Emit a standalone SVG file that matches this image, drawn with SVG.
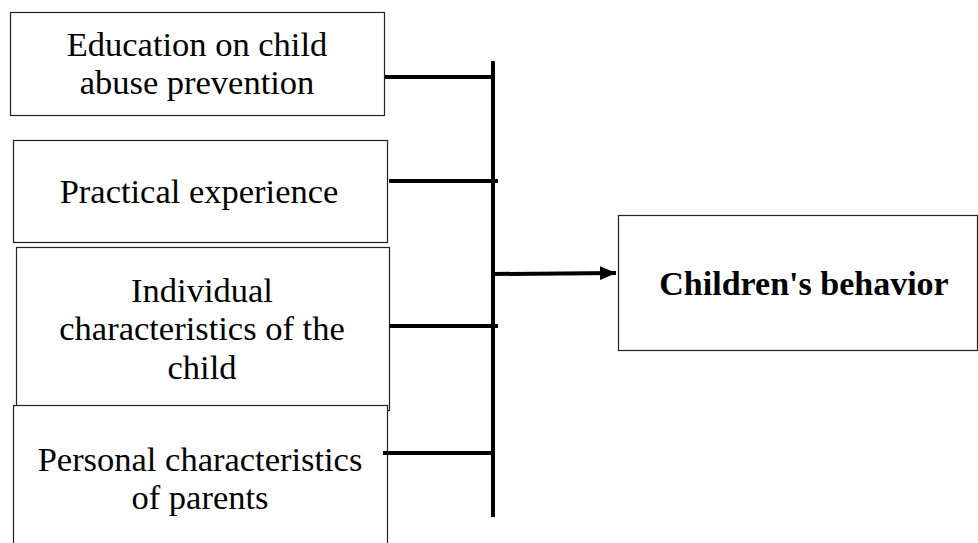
<svg xmlns="http://www.w3.org/2000/svg" width="978" height="543" viewBox="0 0 978 543">
<style>
.box{fill:#fff;stroke:#222;stroke-width:1.2}
.t{font-family:"Liberation Serif","Times New Roman",serif;font-size:34.5px;fill:#000;text-anchor:middle}
.b{font-weight:bold;font-size:34px}
.c{stroke:#000;stroke-width:4;fill:none}
</style>
<defs>
<marker id="ah" markerUnits="userSpaceOnUse" markerWidth="18" markerHeight="14" refX="16" refY="7" orient="auto">
<path d="M0,0 L16,7 L0,14 Z" fill="#000"/>
</marker>
</defs>
<rect width="978" height="543" fill="#fff"/>
<g id="n1"><rect class="box" x="10.5" y="12.5" width="374" height="103"/>
<text class="t" x="197" y="56">Education on child</text>
<text class="t" x="197" y="94">abuse prevention</text></g>
<g id="n2"><rect class="box" x="13.5" y="140.5" width="374" height="102"/>
<text class="t" x="199" y="203">Practical experience</text></g>
<g id="n3"><rect class="box" x="16.5" y="247.5" width="373" height="163"/>
<text class="t" x="202" y="302">Individual</text>
<text class="t" x="202" y="340">characteristics of the</text>
<text class="t" x="202" y="379">child</text></g>
<g id="n4"><rect class="box" x="13.5" y="405.5" width="374" height="150"/>
<text class="t" x="200" y="471">Personal characteristics</text>
<text class="t" x="200" y="509">of parents</text></g>
<g id="n5"><rect class="box" x="618.5" y="215.5" width="359" height="135"/>
<text class="t b" x="804" y="295">Children's behavior</text></g>
<g id="connectors">
<line class="c" x1="493" y1="61" x2="493" y2="517"/>
<line class="c" x1="385" y1="77" x2="493" y2="77"/>
<line class="c" x1="389" y1="181" x2="498" y2="181"/>
<line class="c" x1="389" y1="326" x2="498" y2="326"/>
<line class="c" x1="383" y1="453" x2="493" y2="453"/>
<line class="c" x1="493" y1="274" x2="616" y2="273" marker-end="url(#ah)"/>
</g>
</svg>
